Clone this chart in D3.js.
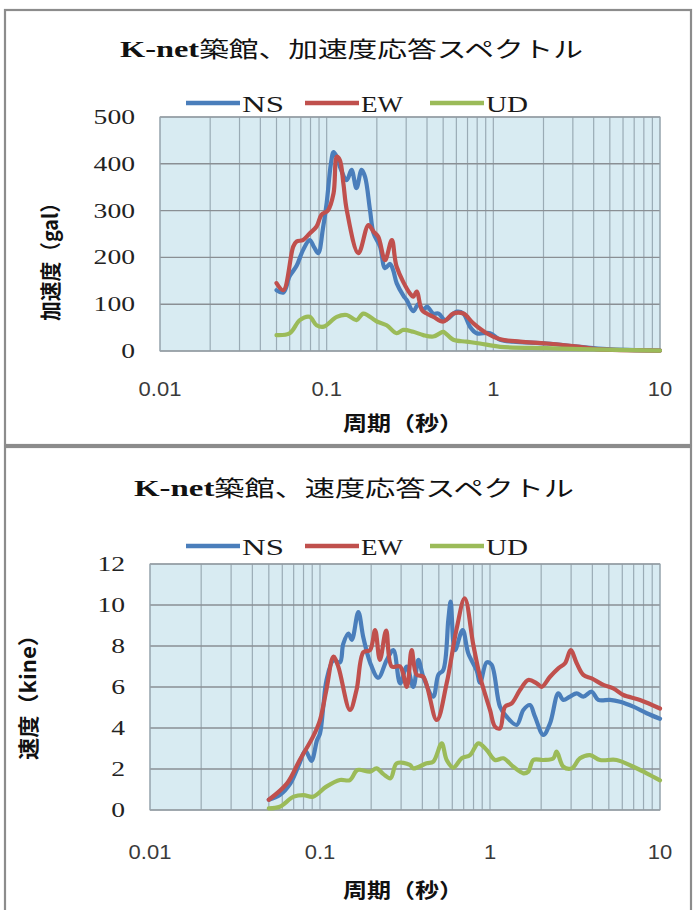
<!DOCTYPE html>
<html>
<head>
<meta charset="utf-8">
<script src="https://cdn.jsdelivr.net/npm/d3@7"></script>
<style>
  html, body { margin: 0; padding: 0; background: #ffffff; }
  svg { display: block; }
</style>
</head>
<body>
<svg id="chart" width="693" height="910"></svg>
<script>
// ---- data: response spectra, [period (s), value] ----
const titlePrefix = "K-net";
const accTitle = "築館、加速度応答スペクトル";
const velTitle = "築館、速度応答スペクトル";
const seriesNames = ["NS", "EW", "UD"];
const seriesColors = ["#4a7ebb", "#c0504d", "#9bbb59"];
const periodTicks = [0.01, 0.1, 1, 10];
const periodTickLabels = ["0.01", "0.1", "1", "10"];
const accTicks = [0, 100, 200, 300, 400, 500];
const velTicks = [0, 2, 4, 6, 8, 10, 12];

// acceleration response (gal)
const accNS = [[0.050,130],[0.055,125],[0.060,160],[0.066,182],[0.072,215],[0.079,237],[0.084,222],[0.089,209],[0.095,262],[0.100,316],[0.106,400],[0.110,425],[0.115,415],[0.120,394],[0.132,365],[0.141,387],[0.151,348],[0.162,387],[0.170,372],[0.182,301],[0.191,252],[0.209,223],[0.224,177],[0.240,186],[0.251,172],[0.263,145],[0.289,118],[0.302,109],[0.331,85],[0.355,100],[0.380,88],[0.400,95],[0.436,80],[0.470,80],[0.513,66],[0.603,84],[0.661,80],[0.724,52],[0.794,38],[0.955,38],[1.10,24],[1.32,20],[2.09,16],[3.31,9],[4.79,4],[10,1]];
const accEW = [[0.050,145],[0.055,130],[0.063,223],[0.066,234],[0.072,237],[0.079,251],[0.087,266],[0.093,291],[0.102,301],[0.110,337],[0.115,415],[0.120,408],[0.126,358],[0.132,301],[0.155,209],[0.178,269],[0.191,255],[0.204,244],[0.224,194],[0.246,237],[0.263,180],[0.316,123],[0.331,116],[0.347,127],[0.372,88],[0.398,80],[0.437,73],[0.501,63],[0.575,80],[0.661,80],[0.759,59],[0.912,38],[1.10,25],[1.45,20],[2.09,16],[3.31,9],[4.17,4],[10,1]];
const accUD = [[0.050,34],[0.060,38],[0.069,66],[0.079,73],[0.087,55],[0.096,52],[0.115,73],[0.132,77],[0.151,66],[0.166,80],[0.200,63],[0.229,55],[0.263,38],[0.288,45],[0.331,41],[0.380,34],[0.436,31],[0.479,38],[0.501,41],[0.575,24],[0.690,20],[0.830,16],[1.10,9],[2.09,6],[3.31,4],[10,1]];

// velocity response (kine)
const velNS = [[0.050,0.5],[0.058,0.73],[0.067,1.3],[0.076,2.3],[0.082,2.9],[0.089,2.4],[0.096,3.4],[0.100,3.74],[0.105,5.2],[0.109,6.3],[0.120,7.3],[0.131,7.2],[0.137,8.1],[0.147,8.6],[0.154,8.3],[0.168,9.65],[0.180,8.4],[0.197,7.2],[0.220,6.45],[0.247,7.32],[0.270,7.8],[0.296,6.18],[0.324,7.0],[0.354,6.0],[0.379,7.32],[0.405,6.5],[0.464,5.53],[0.497,6.6],[0.531,6.83],[0.569,9.3],[0.587,10.16],[0.622,7.8],[0.690,8.78],[0.745,7.64],[0.835,6.8],[0.874,6.2],[0.956,7.2],[1.02,7.1],[1.145,5.04],[1.253,4.55],[1.436,4.15],[1.571,4.88],[1.718,5.12],[1.839,4.55],[2.06,3.66],[2.255,4.23],[2.523,5.69],[2.70,5.37],[2.955,5.53],[3.236,5.69],[3.54,5.53],[3.963,5.77],[4.335,5.37],[5.08,5.37],[5.82,5.28],[6.966,5.04],[8.349,4.72],[10,4.45]];
const velEW = [[0.050,0.5],[0.064,1.3],[0.076,2.44],[0.091,3.58],[0.100,4.39],[0.109,5.85],[0.120,7.48],[0.128,7.0],[0.150,4.88],[0.164,5.85],[0.180,7.7],[0.197,7.8],[0.211,8.78],[0.225,7.32],[0.245,8.75],[0.264,7.0],[0.296,7.0],[0.324,6.01],[0.346,7.8],[0.370,6.6],[0.405,6.5],[0.486,4.39],[0.556,6.18],[0.637,8.86],[0.710,10.33],[0.798,8.05],[0.874,6.5],[1.00,4.88],[1.07,4.07],[1.145,3.98],[1.225,5.04],[1.341,5.2],[1.501,5.85],[1.68,6.34],[1.882,6.18],[2.014,6.01],[2.255,6.5],[2.523,6.91],[2.762,7.16],[2.984,7.8],[3.236,7.16],[3.54,6.59],[3.963,6.42],[4.643,6.1],[5.31,5.93],[6.081,5.61],[7.627,5.37],[10,4.95]];
const velUD = [[0.050,0.08],[0.058,0.16],[0.070,0.65],[0.080,0.73],[0.091,0.65],[0.109,1.14],[0.131,1.46],[0.150,1.46],[0.166,1.95],[0.197,1.87],[0.215,2.03],[0.236,1.75],[0.260,1.55],[0.283,2.28],[0.338,2.2],[0.354,2.03],[0.424,2.28],[0.464,2.36],[0.520,3.25],[0.556,2.44],[0.608,2.07],[0.682,2.52],[0.763,2.68],[0.854,3.25],[0.956,2.93],[1.07,2.44],[1.198,2.52],[1.372,2.11],[1.571,1.79],[1.68,1.87],[1.798,2.44],[2.06,2.44],[2.357,2.52],[2.467,2.85],[2.70,2.11],[3.025,2.03],[3.383,2.52],[3.873,2.68],[4.438,2.44],[5.557,2.44],[6.966,2.11],[8.349,1.79],[10,1.45]];

const svg = d3.select("#chart");

const SERIF = "'Liberation Serif','Noto Sans CJK JP',serif";
const SANS = "'Liberation Sans','Noto Sans CJK JP',sans-serif";
const CJK = "'Noto Sans CJK JP','Liberation Sans',sans-serif";

// text with a horizontal stretch factor
function stretchedText(g, str, x, y, opt) {
  const t = g.append("text")
    .attr("transform", `translate(${x},${y}) scale(${opt.sx || 1},1)`)
    .attr("text-anchor", opt.anchor || "start")
    .attr("font-family", opt.family || SERIF)
    .attr("font-size", opt.size || 20)
    .attr("font-weight", opt.weight || "normal")
    .attr("fill", opt.fill || "#1a1a1a")
    .text(str);
  if (opt.length) {
    t.attr("textLength", opt.length / (opt.sx || 1)).attr("lengthAdjust", "spacingAndGlyphs");
  }
  return t;
}

function drawPanel(cfg) {
  const g = svg.append("g");

  // panel frame
  g.append("rect")
    .attr("x", cfg.frame[0]).attr("y", cfg.frame[1])
    .attr("width", cfg.frame[2]).attr("height", cfg.frame[3])
    .attr("fill", "#ffffff").attr("stroke", "#8c8c8c").attr("stroke-width", 2.2);

  const x = d3.scaleLog().domain([0.01, 10]).range([cfg.left, cfg.right]);
  const y = d3.scaleLinear().domain([0, cfg.yMax]).range([cfg.bottom, cfg.top]);

  // plot area
  g.append("rect")
    .attr("x", cfg.left).attr("y", cfg.top)
    .attr("width", cfg.right - cfg.left).attr("height", cfg.bottom - cfg.top)
    .attr("fill", "#d8ebf2");

  // vertical grid (every 1..9 of each decade)
  g.append("g").selectAll("line").data(x.ticks()).join("line")
    .attr("x1", d => x(d)).attr("x2", d => x(d))
    .attr("y1", cfg.top).attr("y2", cfg.bottom)
    .attr("stroke", "#9aabb5").attr("stroke-width", 1.2);

  // horizontal grid
  g.append("g").selectAll("line").data(cfg.yTicks).join("line")
    .attr("x1", cfg.left).attr("x2", cfg.right)
    .attr("y1", d => y(d)).attr("y2", d => y(d))
    .attr("stroke", "#8a8f94").attr("stroke-width", 1.4);

  // plot border
  g.append("rect")
    .attr("x", cfg.left).attr("y", cfg.top)
    .attr("width", cfg.right - cfg.left).attr("height", cfg.bottom - cfg.top)
    .attr("fill", "none").attr("stroke", "#9aa6ad").attr("stroke-width", 1);

  // series
  const line = d3.line()
    .x(d => x(d[0])).y(d => y(d[1]))
    .curve(d3.curveCatmullRom.alpha(0.5));
  cfg.series.forEach((s, i) => {
    g.append("path").datum(s)
      .attr("d", line)
      .attr("fill", "none")
      .attr("stroke", seriesColors[i])
      .attr("stroke-width", 4.2)
      .attr("stroke-linejoin", "round")
      .attr("stroke-linecap", "round");
  });

  // y tick labels
  cfg.yTicks.forEach(v => {
    stretchedText(g, String(v), cfg.yLabelX, y(v) + 7, { size: 20, sx: 1.38, anchor: "end", family: SERIF, fill: "#222" });
  });

  // x tick labels
  periodTicks.forEach((p, i) => {
    stretchedText(g, periodTickLabels[i], x(p), cfg.xLabelY, { size: 20, sx: 1.1, anchor: "middle", family: SANS, fill: "#3a3a3a" });
  });

  // chart title: latin part bold serif, japanese part regular
  const t = g.append("text")
    .attr("x", cfg.titleX).attr("y", cfg.titleY)
    .attr("font-size", 22).attr("fill", "#111")
    .attr("textLength", cfg.titleW).attr("lengthAdjust", "spacingAndGlyphs");
  t.append("tspan").attr("font-family", SERIF).attr("font-weight", "bold").attr("font-size", 24).text(titlePrefix);
  t.append("tspan").attr("font-family", CJK).attr("font-weight", "normal").text(cfg.title);

  // axis titles
  stretchedText(g, "周期（秒）", 403, cfg.xTitleY, { size: 20, family: CJK, weight: "bold", anchor: "middle", length: 120, fill: "#111" });

  g.append("text")
    .attr("transform", `translate(${cfg.yTitleX},${cfg.yTitleY}) rotate(-90)`)
    .attr("text-anchor", "middle")
    .attr("font-family", CJK).attr("font-weight", "bold").attr("font-size", 21)
    .attr("textLength", cfg.yTitleW).attr("lengthAdjust", "spacingAndGlyphs")
    .attr("fill", "#111")
    .text(cfg.yTitle);

  // legend
  const legX = [186, 305, 430];
  seriesNames.forEach((n, i) => {
    g.append("line")
      .attr("x1", legX[i]).attr("x2", legX[i] + 54)
      .attr("y1", cfg.legendY).attr("y2", cfg.legendY)
      .attr("stroke", seriesColors[i]).attr("stroke-width", 4.5);
    stretchedText(g, n, legX[i] + 56, cfg.legendY + 8.5, { size: 24, family: SERIF, length: 42, fill: "#1a1a1a" });
  });
}

drawPanel({
  frame: [5, 10, 686, 435],
  left: 160, right: 660, top: 117, bottom: 351,
  yMax: 500, yTicks: accTicks,
  series: [accNS, accEW, accUD],
  yLabelX: 135, xLabelY: 395.5,
  title: accTitle, titleX: 120, titleY: 57, titleW: 463,
  xTitleY: 431,
  yTitle: "加速度（gal）", yTitleX: 58, yTitleY: 257, yTitleW: 128,
  legendY: 103
});

drawPanel({
  frame: [5, 447, 686, 470],
  left: 150, right: 660, top: 564, bottom: 810,
  yMax: 12, yTicks: velTicks,
  series: [velNS, velEW, velUD],
  yLabelX: 125, xLabelY: 858.5,
  title: velTitle, titleX: 134, titleY: 496, titleW: 440,
  xTitleY: 898,
  yTitle: "速度（kine）", yTitleX: 36, yTitleY: 692, yTitleW: 136,
  legendY: 546
});
</script>
</body>
</html>
